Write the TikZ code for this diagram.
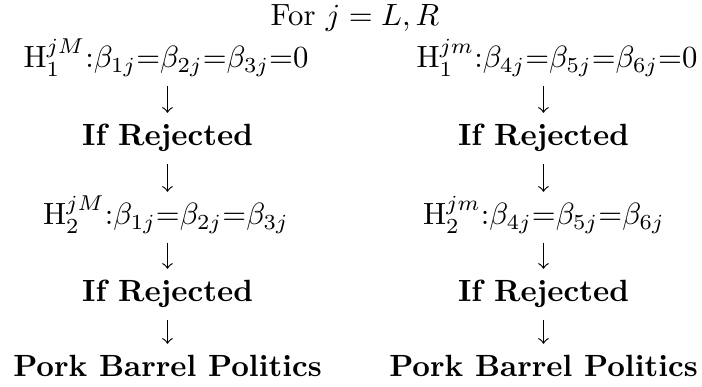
\documentclass[tikz,border=0pt]{standalone}
\begin{document}
\begin{tikzpicture}[x=0.3257pt,y=-0.3257pt,
  lbl/.style={inner sep=0pt,anchor=base,text height=7pt,text depth=2pt},
  arr/.style={->,line width=0.4pt,shorten <=3.6pt,shorten >=3.6pt}]
\useasboundingbox (0,0) rectangle (702,387);
\node[lbl] (title) at (355,26) {For $j=L,R$};
% left column
\node[lbl] (h1L) at (166,68) {$\mathrm{H}_1^{jM}$:$\beta_{1j}$=$\beta_{2j}$=$\beta_{3j}$=0};
\node[lbl] (r1L) at (167.5,146) {\textbf{If Rejected}};
\node[lbl] (h2L) at (166,225) {$\mathrm{H}_2^{jM}$:$\beta_{1j}$=$\beta_{2j}$=$\beta_{3j}$};
\node[lbl] (r2L) at (167.5,302) {\textbf{If Rejected}};
\node[lbl] (pL) at (167.5,377) {\textbf{Pork Barrel Politics}};
% right column
\node[lbl] (h1R) at (557,68) {$\mathrm{H}_1^{jm}$:$\beta_{4j}$=$\beta_{5j}$=$\beta_{6j}$=0};
\node[lbl] (r1R) at (543.5,146) {\textbf{If Rejected}};
\node[lbl] (h2R) at (544,225) {$\mathrm{H}_2^{jm}$:$\beta_{4j}$=$\beta_{5j}$=$\beta_{6j}$};
\node[lbl] (r2R) at (543.5,302) {\textbf{If Rejected}};
\node[lbl] (pR) at (543.5,377) {\textbf{Pork Barrel Politics}};
% arrows
\draw[arr] (r1L.north |- h1L.south) -- (r1L.north);
\draw[arr] (r1L.south) -- (r1L.south |- h2L.north);
\draw[arr] (r2L.north |- h2L.south) -- (r2L.north);
\draw[arr] (r2L.south) -- (r2L.south |- pL.north);
\draw[arr] (r1R.north |- h1R.south) -- (r1R.north);
\draw[arr] (r1R.south) -- (r1R.south |- h2R.north);
\draw[arr] (r2R.north |- h2R.south) -- (r2R.north);
\draw[arr] (r2R.south) -- (r2R.south |- pR.north);
\end{tikzpicture}
\end{document}
